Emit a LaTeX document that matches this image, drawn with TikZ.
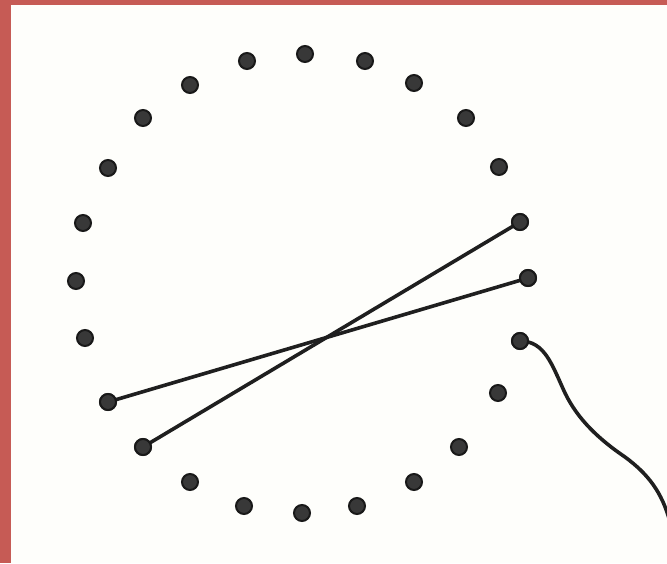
\documentclass[tikz,border=0pt]{standalone}
\begin{document}
\begin{tikzpicture}[x=1pt,y=-1pt,
  hole/.style={circle,draw=black!90,fill=black!78,line width=2pt,minimum size=16pt,inner sep=0pt},
  yarn/.style={draw=black!88,line width=3.6pt,line cap=round}]
\definecolor{frame}{HTML}{C65B55}
\definecolor{paper}{HTML}{FEFEFB}
\useasboundingbox (0,0) rectangle (667,563);
\fill[frame] (0,0) rectangle (667,563);
\fill[paper] (11,5) rectangle (667,563);
\begin{scope}
\clip (11,5) rectangle (667,563);
% dots
\foreach \n/\x/\y in {d1/305/54, d2/365/61, d3/414/83, d4/466/118, d5/499/167, d6/520/222,
  d7/528/278, d8/520/341, d9/498/393, d10/459/447, d11/414/482, d12/357/506, d13/302/513,
  d14/244/506, d15/190/482, d16/143/447, d17/108/402, d18/85/338, d19/76/281, d20/83/223,
  d21/108/168, d22/143/118, d23/190/85, d24/247/61}
  \node[hole] (\n) at (\x,\y) {};
% strings
\draw[yarn] (d6.center) -- (d16.center);
\draw[yarn] (d7.center) -- (d17.center);
\coordinate (tend) at (670,522);
\draw[yarn] (d8.center) .. controls (545,341) and (552,365) .. (565,393)
  .. controls (578,420) and (600,440) .. (625,457)
  .. controls (648,474) and (662,492) .. (tend);
% redraw end dots over strings
\foreach \n in {d6,d7,d8,d16,d17}
  \node[hole] at (\n) {};
\end{scope}
\end{tikzpicture}
\end{document}
